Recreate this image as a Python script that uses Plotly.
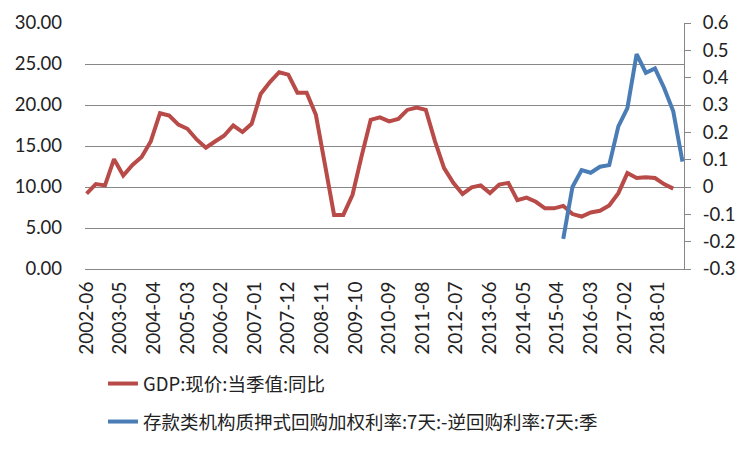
import plotly.graph_objects as go
import pandas as pd

# GDP nominal YoY (%), quarterly from 2002-06 to 2018-06
gdp = [9.2, 10.35, 10.2, 13.4, 11.4, 12.7, 13.65, 15.55, 19.0, 18.7,
       17.6, 17.1, 15.8, 14.8, 15.55, 16.25, 17.5, 16.7, 17.7, 21.35,
       22.8, 24.0, 23.7, 21.5, 21.5, 18.8, 12.7, 6.6, 6.6, 9.05,
       13.8, 18.2, 18.5, 18.0, 18.3, 19.4, 19.7, 19.4, 15.6, 12.3,
       10.5, 9.15, 9.95, 10.2, 9.25, 10.3, 10.5, 8.4, 8.7, 8.2,
       7.4, 7.4, 7.7, 6.7, 6.4, 6.9, 7.1, 7.75, 9.25, 11.7,
       11.1, 11.2, 11.1, 10.35, 9.8]
gdp_start = "2002-06-01"

# DR007 - 7D reverse repo spread, quarterly from 2015-06 to 2018-09
spread = [-0.19, 0.0, 0.062, 0.052, 0.074, 0.08, 0.222, 0.289, 0.486, 0.418,
          0.434, 0.363, 0.277, 0.093]
spread_start = "2015-06-01"

x_tick_labels = ["2002-06", "2003-05", "2004-04", "2005-03", "2006-02", "2007-01",
                 "2007-12", "2008-11", "2009-10", "2010-09", "2011-08", "2012-07",
                 "2013-06", "2014-05", "2015-04", "2016-03", "2017-02", "2018-01"]
right_ticks = [-0.3, -0.2, -0.1, 0, 0.1, 0.2, 0.3, 0.4, 0.5, 0.6]
right_tick_labels = ["-0.3", "-0.2", "-0.1", "0", "0.1", "0.2", "0.3", "0.4", "0.5", "0.6"]

name_gdp = "GDP:现价:当季值:同比"
name_spread = "存款类机构质押式回购加权利率:7天:-逆回购利率:7天:季"

gdp_x = pd.date_range(gdp_start, periods=len(gdp), freq="3MS")
spread_x = pd.date_range(spread_start, periods=len(spread), freq="3MS")

RED = "#B84A48"
BLUE = "#4A7DB5"
GRID = "#878787"
TICK_FONT = dict(family="Lato, Open Sans, sans-serif", size=19, color="#222222")
YTICK_FONT = dict(family="Lato, Open Sans, sans-serif", size=18.5, color="#222222")
LEG_FONT = dict(family="Noto Sans CJK SC, sans-serif", size=18.5, color="#222222")

fig = go.Figure()
fig.add_trace(go.Scatter(x=gdp_x, y=gdp, mode="lines", name=name_gdp,
                         line=dict(color=RED, width=4), legend="legend"))
fig.add_trace(go.Scatter(x=spread_x, y=spread, mode="lines", name=name_spread,
                         line=dict(color=BLUE, width=4), yaxis="y2", legend="legend2"))

# the page body adds an 8px offset; figure is sized to fit the window
fig.update_layout(
    width=743, height=443,
    margin=dict(l=77, r=67, t=15, b=182, autoexpand=False),
    paper_bgcolor="white", plot_bgcolor="white",
    font=TICK_FONT,
    xaxis=dict(type="date", range=["2002-05-16", "2018-09-16"],
               tickvals=[pd.Timestamp(t + "-01") for t in x_tick_labels],
               ticktext=x_tick_labels, tickangle=-90, tickfont=TICK_FONT,
               showgrid=False, showline=True, linecolor=GRID, linewidth=1,
               ticks="", zeroline=False, ticklabelstandoff=4, automargin=False),
    yaxis=dict(range=[0, 30], dtick=5, tickformat=".2f", tickfont=YTICK_FONT,
               showgrid=True, gridcolor=GRID, gridwidth=1, zeroline=False,
               showline=False, ticks="", ticklabelstandoff=22, automargin=False),
    yaxis2=dict(range=[-0.3, 0.6], tickvals=right_ticks, ticktext=right_tick_labels,
                overlaying="y", side="right", tickfont=YTICK_FONT,
                showgrid=False, zeroline=False, showline=True, linecolor=GRID,
                linewidth=1, ticks="outside", ticklen=6, tickcolor=GRID,
                ticklabelstandoff=8, automargin=False),
    legend=dict(x=0.03, y=-0.4675, xanchor="left", yanchor="middle",
                font=LEG_FONT, bgcolor="rgba(0,0,0,0)"),
    legend2=dict(x=0.03, y=-0.622, xanchor="left", yanchor="middle",
                 font=LEG_FONT, bgcolor="rgba(0,0,0,0)"),
    showlegend=True,
)

fig.write_html("out.html")
